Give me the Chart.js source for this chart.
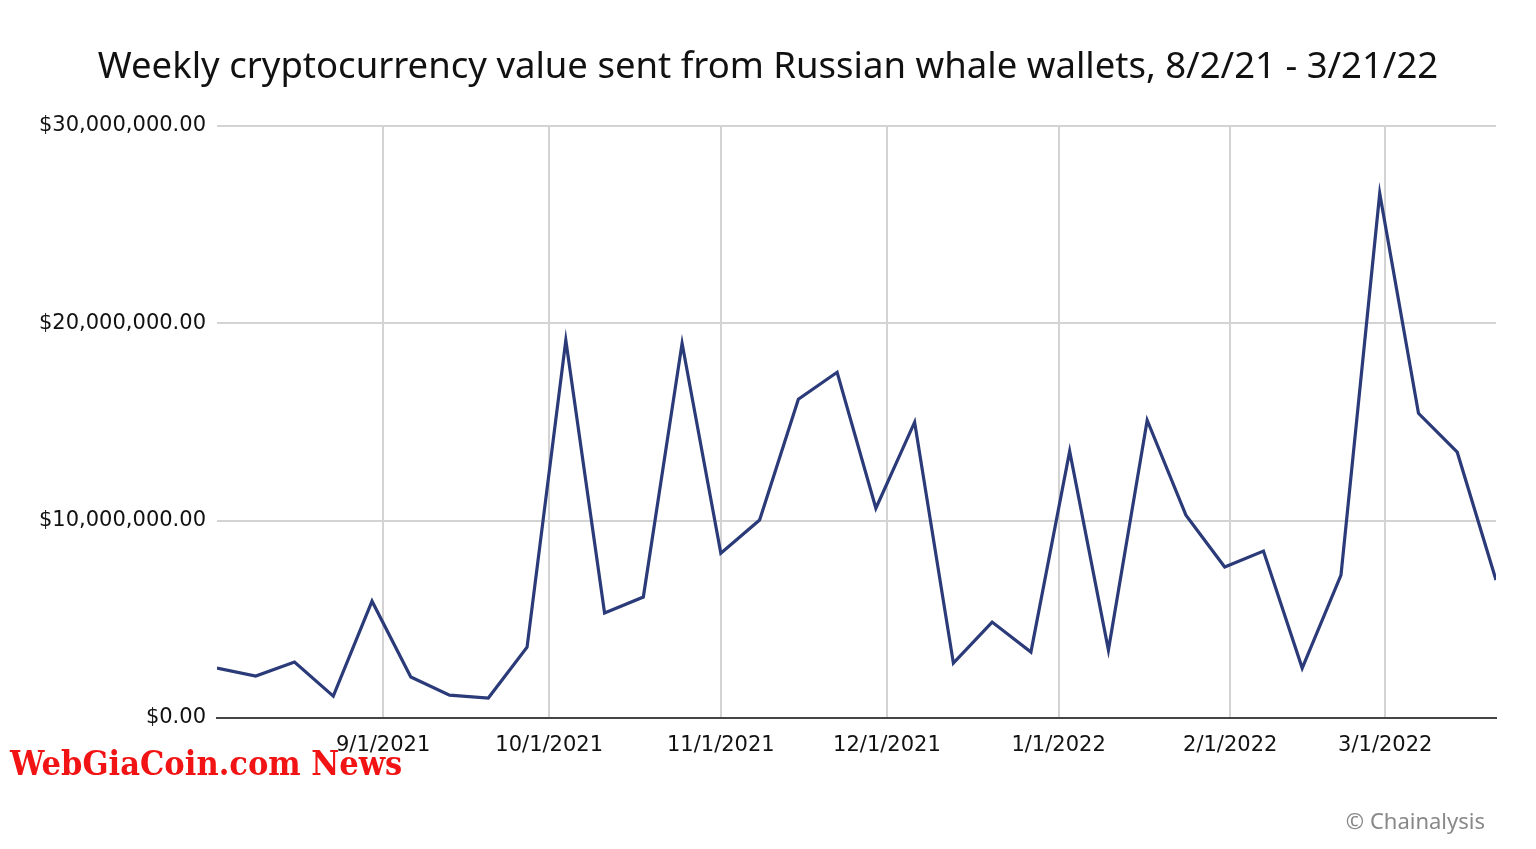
<!DOCTYPE html>
<html lang="en">
<head>
    <meta charset="UTF-8" />
    <title>Weekly cryptocurrency value sent from Russian whale wallets</title>
    <script src="https://cdn.jsdelivr.net/npm/chart.js@4.4.0/dist/chart.umd.min.js"></script>
    <style>
        html, body { margin: 0; padding: 0; background: #fff; }
        .wrap { position: relative; width: 1536px; height: 849px; }
        .titulo {
            position: absolute; left: 0; top: 39px; width: 1536px; text-align: center;
            font-family: "Noto Sans", "Open Sans", sans-serif; font-size: 36.5px; color: #111;
        }
        .marca {
            position: absolute; left: 10px; top: 743px;
            font-family: "DejaVu Serif Condensed", "DejaVu Serif", serif; font-weight: bold;
            font-size: 34px; color: #f21414;
        }
        .fuente {
            position: absolute; right: 51px; top: 805px;
            font-family: "Noto Sans", "Open Sans", sans-serif; font-size: 22px; color: #888;
        }
    </style>
</head>
<body>
    <div class="wrap">
        <canvas id="whaleChart" width="1536" height="849"></canvas>
        <div class="titulo">Weekly cryptocurrency value sent from Russian whale wallets, 8/2/21 - 3/21/22</div>
        <div class="marca">WebGiaCoin.com News</div>
        <div class="fuente">© Chainalysis</div>
    </div>

    <script>
        // semanas (lunes) y valor enviado en USD
        const weeks = [
            '2021-08-02', '2021-08-09', '2021-08-16', '2021-08-23', '2021-08-30',
            '2021-09-06', '2021-09-13', '2021-09-20', '2021-09-27', '2021-10-04',
            '2021-10-11', '2021-10-18', '2021-10-25', '2021-11-01', '2021-11-08',
            '2021-11-15', '2021-11-22', '2021-11-29', '2021-12-06', '2021-12-13',
            '2021-12-20', '2021-12-27', '2022-01-03', '2022-01-10', '2022-01-17',
            '2022-01-24', '2022-01-31', '2022-02-07', '2022-02-14', '2022-02-21',
            '2022-02-28', '2022-03-07', '2022-03-14', '2022-03-21'
        ];
        const valueSent = [
            2530000, 2130000, 2840000, 1110000, 5920000,
            2080000, 1160000, 1010000, 3590000, 19140000,
            5320000, 6130000, 18990000, 8350000, 10030000,
            16150000, 17520000, 10630000, 14990000, 2780000,
            4860000, 3340000, 13520000, 3440000, 15090000,
            10280000, 7650000, 8460000, 2530000, 7240000,
            26580000, 15440000, 13470000, 6990000
        ];
        const monthTicks = ['2021-09-01', '2021-10-01', '2021-11-01', '2021-12-01', '2022-01-01', '2022-02-01', '2022-03-01'];
        const monthLabels = ['9/1/2021', '10/1/2021', '11/1/2021', '12/1/2021', '1/1/2022', '2/1/2022', '3/1/2022'];
        const yTicks = [0, 10000000, 20000000, 30000000];

        const DAY = 86400000;
        const t0 = Date.parse(weeks[0]);
        const toDay = d => (Date.parse(d) - t0) / DAY;

        const puntos = weeks.map((w, i) => ({ x: toDay(w), y: valueSent[i] }));
        const tickDays = monthTicks.map(toDay);

        const fmtUSD = v => '$' + v.toLocaleString('en-US', { minimumFractionDigits: 2, maximumFractionDigits: 2 });
        const tickFont = { family: '"DejaVu Sans", sans-serif', size: 21 };

        new Chart(document.getElementById('whaleChart'), {
            type: 'line',
            data: {
                datasets: [{
                    data: puntos,
                    borderColor: '#2b3a78',
                    borderWidth: 3.2,
                    pointRadius: 0,
                    tension: 0,
                    fill: false
                }]
            },
            options: {
                responsive: false,
                animation: false,
                layout: { padding: { left: 0, right: 40, top: 126, bottom: 71 } },
                plugins: { legend: { display: false }, tooltip: { enabled: false } },
                scales: {
                    x: {
                        type: 'linear',
                        min: 0,
                        max: toDay(weeks[weeks.length - 1]),
                        afterBuildTicks: s => { s.ticks = tickDays.map(v => ({ value: v })); },
                        afterFit: s => { s.height = 60; },
                        grid: { color: '#d3d3d3', lineWidth: 2, drawTicks: false },
                        border: { display: true, color: '#444', width: 2 },
                        ticks: {
                            font: tickFont, color: '#111', padding: 15, maxRotation: 0,
                            autoSkip: false,
                            callback: v => monthLabels[tickDays.indexOf(v)] || ''
                        }
                    },
                    y: {
                        min: 0,
                        max: 30000000,
                        afterBuildTicks: s => { s.ticks = yTicks.map(v => ({ value: v })); },
                        afterFit: s => { s.width = 217; },
                        grid: { color: '#d3d3d3', lineWidth: 2, drawTicks: false },
                        border: { display: false },
                        ticks: { font: tickFont, color: '#111', padding: 11, callback: v => fmtUSD(v) }
                    }
                }
            }
        });
    </script>
</body>
</html>
